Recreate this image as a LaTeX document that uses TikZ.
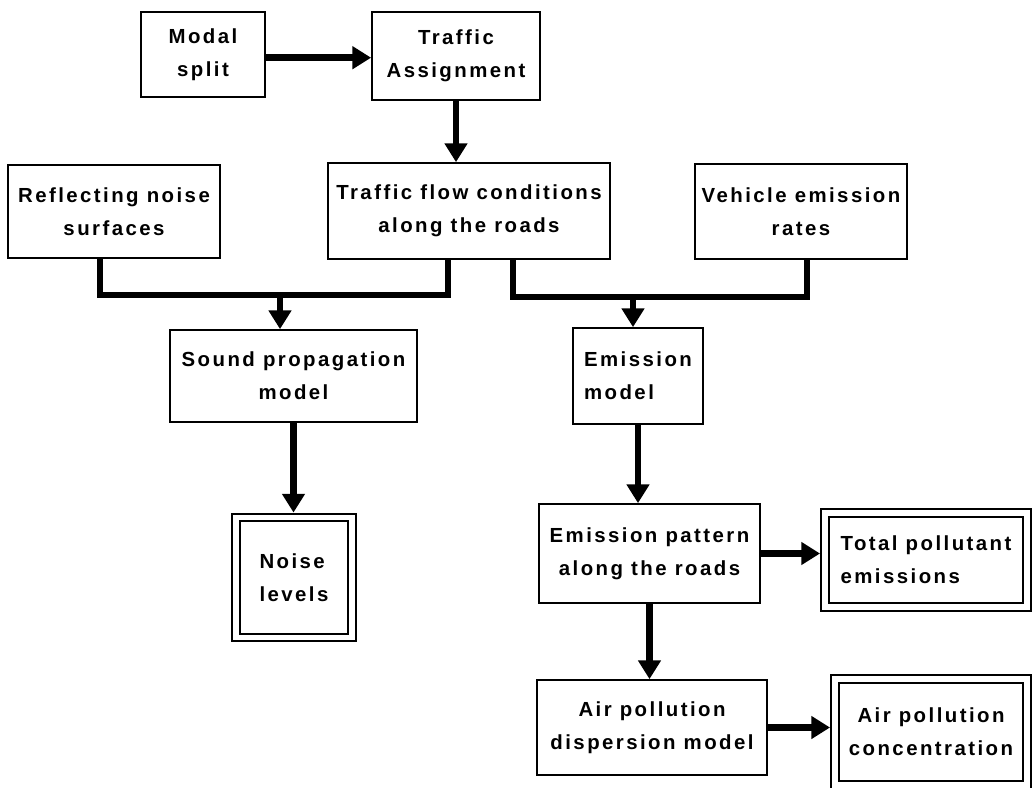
\documentclass[tikz,border=0pt]{standalone}
\usepackage{fontspec}
\usepackage{tikz}
\newfontfamily\boxfont[LetterSpace=12]{Liberation Sans}
\usetikzlibrary{shapes,arrows,positioning,calc,arrows.meta}

\tikzset{
  block/.style={draw, line width=1.2pt, align=center, inner sep=2pt,
    font=\boxfont\bfseries\fontsize{14.5}{23.5}\selectfont},
  result/.style={block, double, double distance=4.2pt, outer sep=3.5pt},
  flowline/.style={line width=4.6pt},
  flowarrow/.style={line width=4.6pt, -{Triangle[width=0.55cm,length=0.47cm]}}
}

\begin{document}
\begin{tikzpicture}[x=0.025cm, y=-0.025cm]
        \useasboundingbox (0,0) rectangle (1032,788);

        % Traffic model
        \node[block, minimum width=3.1cm, minimum height=2.125cm] (modal) at (203,54.5) {Modal\\split};
        \node[block, minimum width=4.2cm, minimum height=2.2cm] (assign) at (456,56) {Traffic\\Assignment};

        % Inputs
        \node[block, minimum width=5.3cm, minimum height=2.325cm] (reflect) at (114,211.5) {Reflecting noise\\surfaces};
        \node[block, minimum width=7.05cm, minimum height=2.4cm] (flow) at (469,211) {Traffic flow conditions\\along the roads};
        \node[block, minimum width=5.3cm, minimum height=2.375cm] (rates) at (801,211.5) {Vehicle emission\\rates};

        % Models
        \node[block, minimum width=6.175cm, minimum height=2.3cm] (sound) at (293.5,376) {Sound propagation\\model};
        \node[block, align=left, minimum width=3.25cm, minimum height=2.4cm] (emis) at (638,376) {Emission\\model};

        % Noise output
        \node[result, align=left, minimum width=2.9cm, minimum height=3.0cm] (noise) at (294,577.5) {Noise\\levels};

        % Air pollution chain
        \node[block, minimum width=5.525cm, minimum height=2.475cm] (pattern) at (649.5,553.5) {Emission pattern\\along the roads};
        \node[result, align=left, minimum width=5.05cm, minimum height=2.35cm] (total) at (926,560) {Total pollutant\\emissions};
        \node[block, minimum width=5.75cm, minimum height=2.375cm] (disp) at (652,727.5) {Air pollution\\dispersion model};
        \node[result, minimum width=4.8cm, minimum height=2.65cm] (conc) at (931,732) {Air pollution\\concentration};

        % Junctions
        \coordinate (jl) at (280,295);
        \coordinate (jr) at (633,297);

        % Connectors
        \draw[flowarrow] ([yshift=-0.08cm]modal.east) -- ([yshift=-0.08cm]modal.east -| assign.west);
        \draw[flowarrow] (assign.south) -- (assign.south |- flow.north);
        \draw[flowline] ([xshift=-0.35cm]reflect.south) |- (jl) -| ([xshift=-0.525cm]flow.south);
        \draw[flowarrow] (jl) -- (jl |- sound.north);
        \draw[flowline] ([xshift=1.1cm]flow.south) |- (jr) -| ([xshift=0.15cm]rates.south);
        \draw[flowarrow] (jr) -- (jr |- emis.north);
        \draw[flowarrow] (sound.south) -- (sound.south |- noise.north);
        \draw[flowarrow] (emis.south) -- (emis.south |- pattern.north);
        \draw[flowarrow] (pattern.east) -- (pattern.east -| total.west);
        \draw[flowarrow] (pattern.south) -- (pattern.south |- disp.north);
        \draw[flowarrow] (disp.east) -- (disp.east -| conc.west);
    \end{tikzpicture}
\end{document}
